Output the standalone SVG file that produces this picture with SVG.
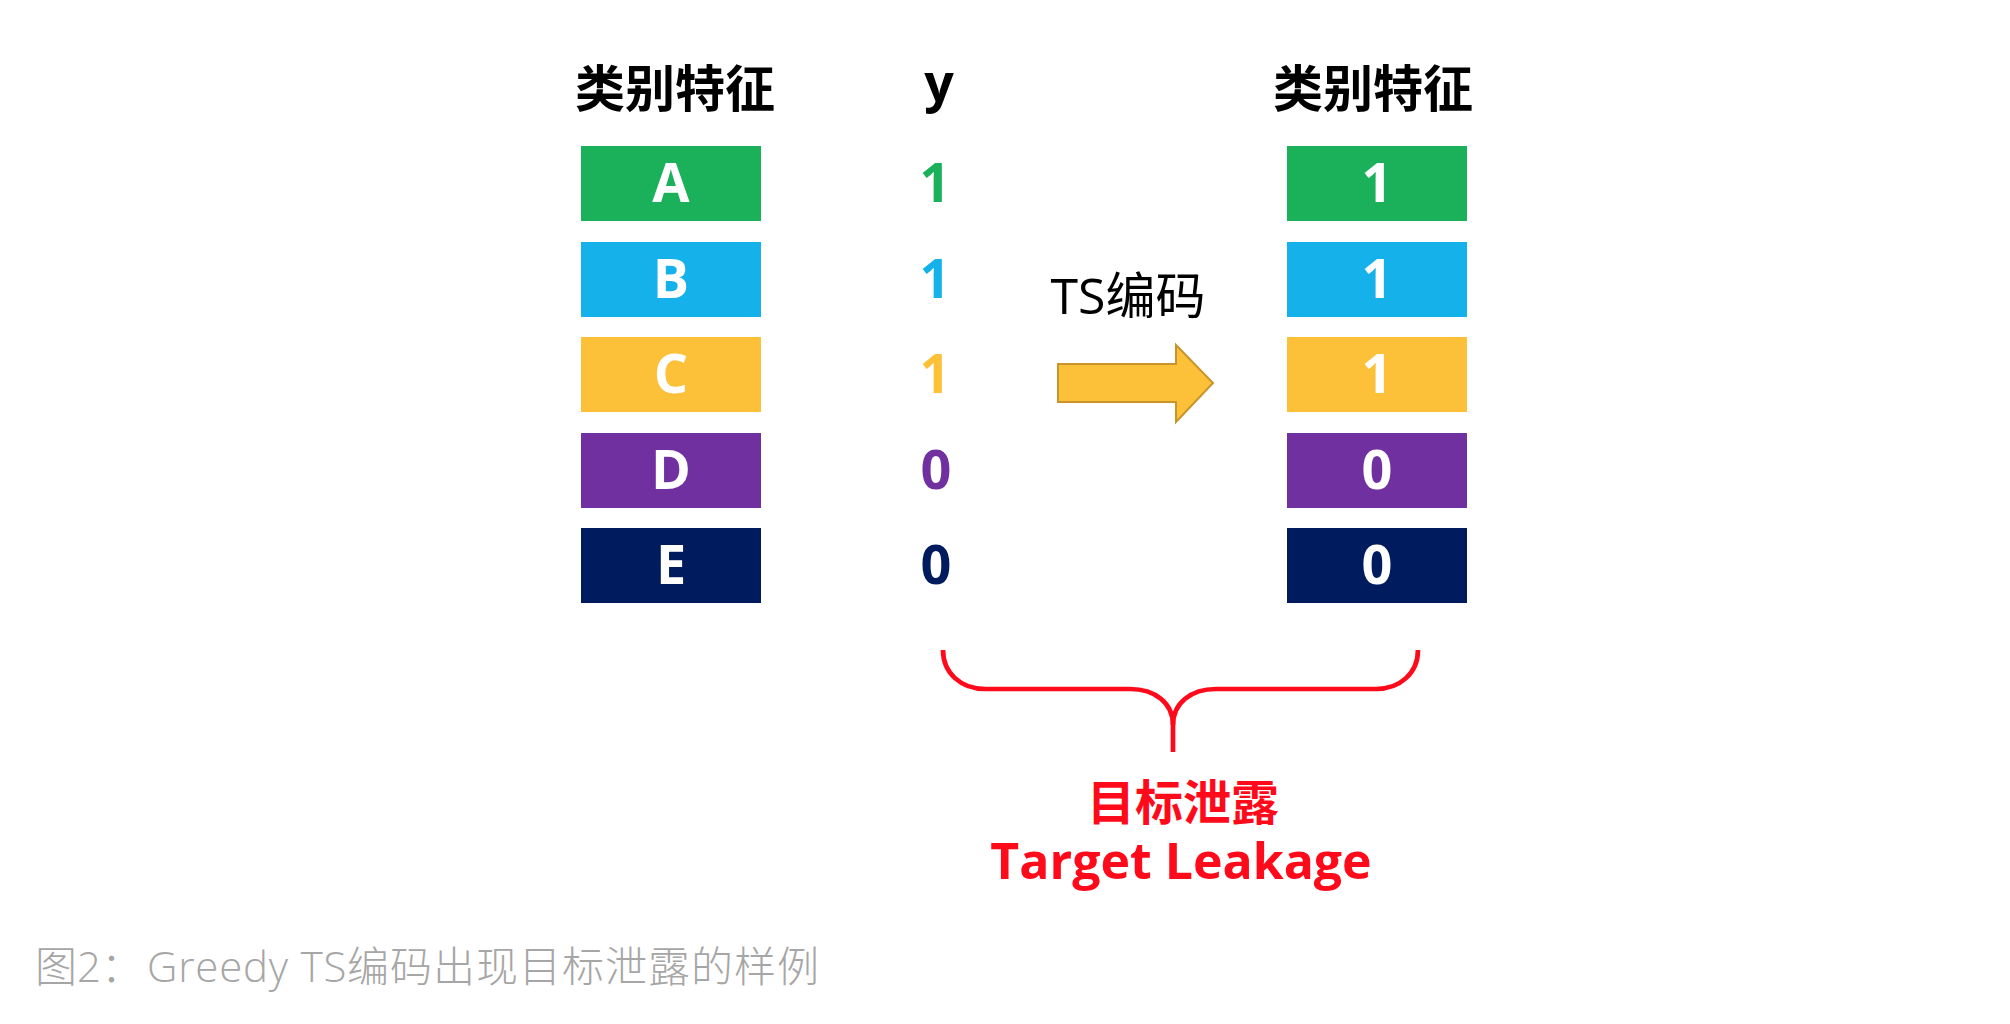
<svg xmlns="http://www.w3.org/2000/svg" width="2010" height="1024" viewBox="0 0 2010 1024">
<style>
.t{font-family:"Open Sans","Noto Sans CJK SC",sans-serif}
.hdr{font-family:"Noto Sans CJK SC",sans-serif;font-weight:700;font-size:50px;fill:#000;text-anchor:middle}
.bx{font-family:"Open Sans","Noto Sans CJK SC",sans-serif;font-weight:700;font-size:54px;fill:#fff;text-anchor:middle}
.yv{font-family:"Open Sans","Noto Sans CJK SC",sans-serif;font-weight:700;font-size:54px;text-anchor:middle}
.g{fill:#1AB15A}.b{fill:#15B1EB}.o{fill:#FCC139}.p{fill:#7030A0}.n{fill:#001B5E}
</style>
<rect width="2010" height="1024" fill="#fff"/>
<g id="header-left"><text class="hdr" x="675" y="107">类别特征</text></g>
<g id="header-y"><text class="t" x="939" y="101" font-size="52" font-weight="700" text-anchor="middle">y</text></g>
<g id="header-right"><text class="hdr" x="1373" y="107">类别特征</text></g>

<g id="cat-A"><rect class="g" x="581" y="146" width="180" height="75"/><text class="bx" x="671" y="202">A</text></g>
<g id="cat-B"><rect class="b" x="581" y="242" width="180" height="75"/><text class="bx" x="671" y="298">B</text></g>
<g id="cat-C"><rect class="o" x="581" y="337" width="180" height="75"/><text class="bx" x="671" y="393">C</text></g>
<g id="cat-D"><rect class="p" x="581" y="433" width="180" height="75"/><text class="bx" x="671" y="489">D</text></g>
<g id="cat-E"><rect class="n" x="581" y="528" width="180" height="75"/><text class="bx" x="671" y="584">E</text></g>

<g id="y-A"><text class="yv g" x="935" y="202">1</text></g>
<g id="y-B"><text class="yv b" x="935" y="298">1</text></g>
<g id="y-C"><text class="yv o" x="935" y="393">1</text></g>
<g id="y-D"><text class="yv p" x="936" y="489">0</text></g>
<g id="y-E"><text class="yv n" x="936" y="584">0</text></g>

<g id="enc-A"><rect class="g" x="1287" y="146" width="180" height="75"/><text class="bx" x="1377" y="202">1</text></g>
<g id="enc-B"><rect class="b" x="1287" y="242" width="180" height="75"/><text class="bx" x="1377" y="298">1</text></g>
<g id="enc-C"><rect class="o" x="1287" y="337" width="180" height="75"/><text class="bx" x="1377" y="393">1</text></g>
<g id="enc-D"><rect class="p" x="1287" y="433" width="180" height="75"/><text class="bx" x="1377" y="489">0</text></g>
<g id="enc-E"><rect class="n" x="1287" y="528" width="180" height="75"/><text class="bx" x="1377" y="584">0</text></g>

<g id="connectors">
<g id="ts-arrow">
<path d="M1058 364 L1176 364 L1176 345 L1213 383 L1176 422 L1176 402 L1058 402 Z" fill="#FCC139" stroke="#C9952B" stroke-width="2"/>
<text class="t" x="1128" y="314" font-size="50" text-anchor="middle" fill="#000">TS编码</text>
</g>
<g id="brace" fill="none" stroke="#FF0A1A" stroke-width="4.7">
<path d="M943 650 C943 673 961 689 985 689 L1130 689 C1155 689 1173 703 1173 725 L1173 752"/>
<path d="M1418 650 C1418 673 1400 689 1376 689 L1216 689 C1191 689 1173 703 1173 725"/>
</g>
</g>

<g id="leakage-label">
<text x="1183" y="820" font-family="Noto Sans CJK SC,sans-serif" font-weight="700" font-size="48" fill="#FF0A1A" text-anchor="middle">目标泄露</text>
<text class="t" x="1181" y="879" font-size="50" font-weight="700" fill="#FF0A1A" text-anchor="middle">Target Leakage</text>
</g>

<g id="caption">
<text class="t" y="982" font-size="42" font-weight="300" fill="#A6A6A6"><tspan x="35">图2：</tspan><tspan x="147" letter-spacing="0.8">Greedy TS</tspan><tspan x="347" letter-spacing="1">编码出现目标泄露的样例</tspan></text>
</g>
</svg>
